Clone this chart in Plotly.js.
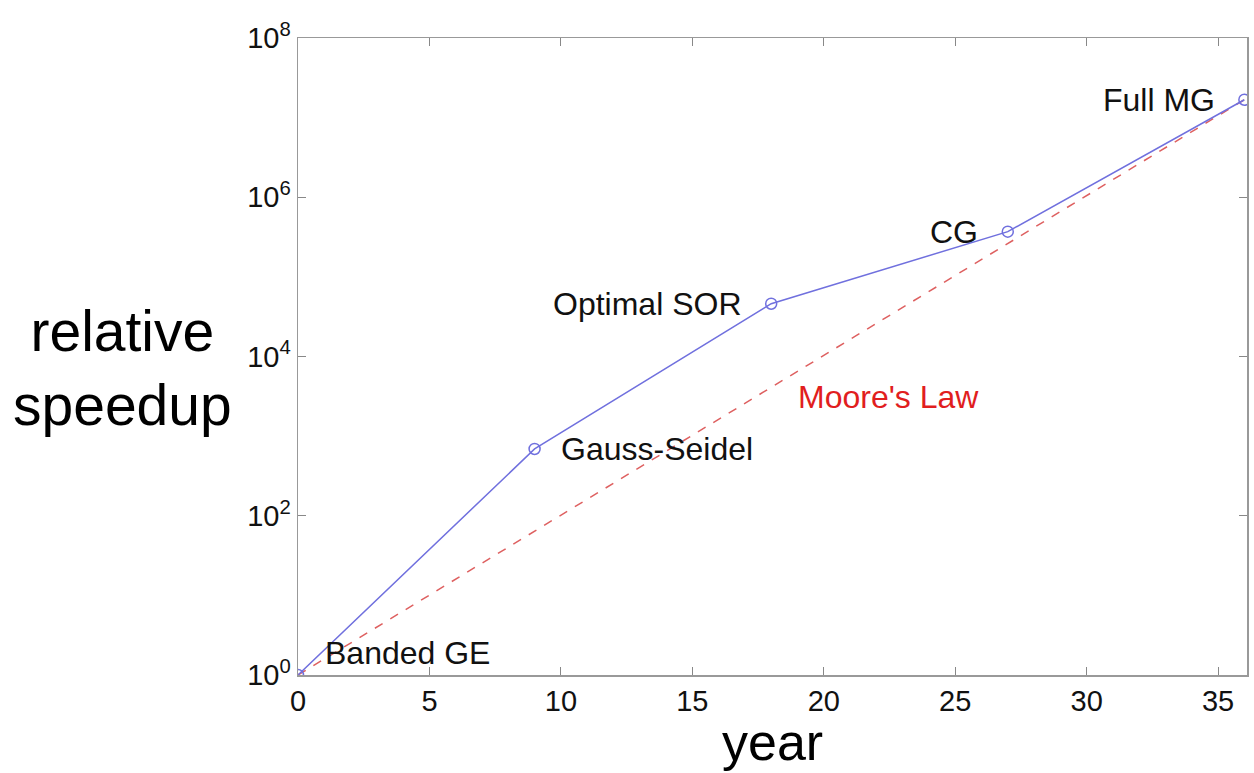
<!DOCTYPE html>
<html>
<head>
<meta charset="utf-8">
<script src="https://cdn.plot.ly/plotly-3.0.1.min.js"></script>
<style>html,body{margin:0;padding:0;background:#fff;}#chart{width:1254px;height:773px;}</style>
</head>
<body>
<div id="chart"></div>
<script>
const methods = ["Banded GE", "Gauss-Seidel", "Optimal SOR", "CG", "Full MG"];
const years = [0, 9, 18, 27, 36];
const speedup = [1, 690, 46000, 370000, 16777216];
const mooreYears = [0, 36];
const mooreSpeedup = [1, 16777216];
const yTickVals = [1, 1e2, 1e4, 1e6, 1e8];
const yTickText = ["10<sup>0</sup>", "10<sup>2</sup>", "10<sup>4</sup>", "10<sup>6</sup>", "10<sup>8</sup>"];
const xTickVals = [0, 5, 10, 15, 20, 25, 30, 35];

const FONT = "Liberation Sans, Arial, Helvetica, sans-serif";
const blue = "rgb(112,112,222)";
const red = "rgb(222,96,96)";

const traces = [
  {x: mooreYears, y: mooreSpeedup, mode: "lines", type: "scatter",
   line: {color: red, width: 1.5, dash: "dash"}, hoverinfo: "skip"},
  {x: years, y: speedup, mode: "lines+markers", type: "scatter", text: methods,
   line: {color: blue, width: 1.5},
   marker: {symbol: "circle-open", size: 11, color: blue, line: {width: 1.5, color: blue}}}
];

const labelCfg = [
  {xanchor: "left", xshift: 25, yshift: 22},
  {xanchor: "left", xshift: 24, yshift: 0},
  {xanchor: "right", xshift: -28, yshift: 0},
  {xanchor: "right", xshift: -28, yshift: 0},
  {xanchor: "right", xshift: -27, yshift: 0}
];

const annotations = methods.map((m, i) => ({
  x: years[i], y: Math.log10(speedup[i]), xref: "x", yref: "y",
  text: m, showarrow: false, xanchor: labelCfg[i].xanchor, yanchor: "middle",
  xshift: labelCfg[i].xshift, yshift: labelCfg[i].yshift,
  font: {family: FONT, size: 32, color: "#111"}
}));
annotations.push({
  x: 18.95, y: 3.49, xref: "x", yref: "y", text: "Moore's Law", showarrow: false,
  xanchor: "left", yanchor: "middle", font: {family: FONT, size: 32, color: "rgb(225,30,30)"}
});
annotations.push({
  x: -0.185, y: 0.482, xref: "paper", yref: "paper", text: "relative<br>speedup",
  showarrow: false, xanchor: "center", yanchor: "middle", align: "center",
  font: {family: FONT, size: 57, color: "#000"}
});
annotations.push({
  x: 0.5, y: -0.1535, xref: "paper", yref: "paper", text: "year",
  showarrow: false, xanchor: "center", yanchor: "bottom",
  font: {family: FONT, size: 52, color: "#000"}
});

const layout = {
  width: 1254, height: 773,
  margin: {l: 298, r: 7, t: 38, b: 98},
  paper_bgcolor: "#fff", plot_bgcolor: "#fff",
  showlegend: false,
  font: {family: FONT, color: "#000"},
  xaxis: {
    range: [0, 36.1], tickvals: xTickVals, ticks: "inside", ticklen: 8, tickcolor: "#888",
    showline: true, linecolor: "#999", linewidth: 1.5, mirror: "ticks", showgrid: false, zeroline: false,
    tickfont: {family: FONT, size: 29, color: "#111"}
  },
  yaxis: {
    type: "log", range: [0, 8], tickvals: yTickVals, ticktext: yTickText,
    ticks: "inside", ticklen: 8, tickcolor: "#888",
    showline: true, linecolor: "#999", linewidth: 1.5, mirror: "ticks", showgrid: false, zeroline: false,
    tickfont: {family: FONT, size: 29, color: "#111"}
  },
  annotations: annotations
};

Plotly.newPlot("chart", traces, layout, {displayModeBar: false, staticPlot: true});
</script>
</body>
</html>
